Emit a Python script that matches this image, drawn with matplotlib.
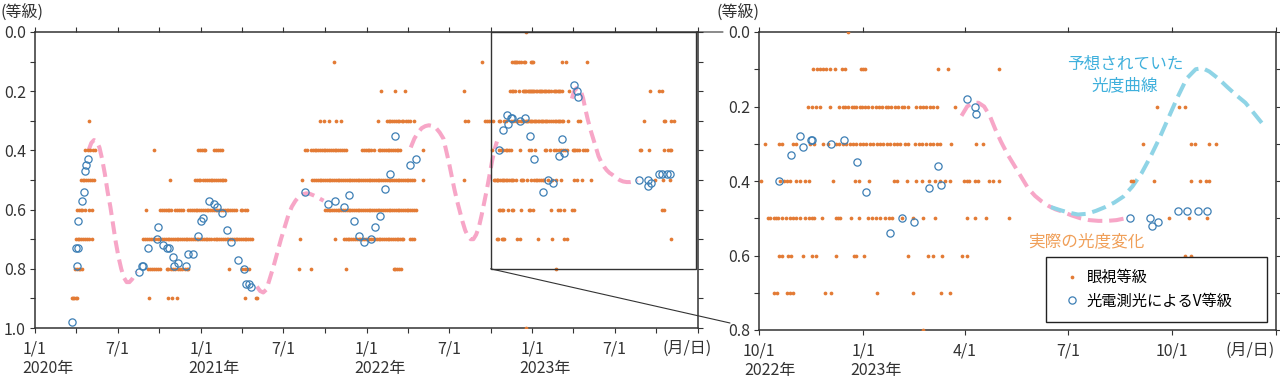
import pandas as pd
import matplotlib
matplotlib.use("Agg")
import matplotlib.pyplot as plt
import matplotlib.dates as mdates
import matplotlib.transforms as mtransforms
from matplotlib.ticker import MultipleLocator, FuncFormatter, FormatStrFormatter
from matplotlib.patches import Rectangle, ConnectionPatch
from matplotlib.lines import Line2D

plt.rcParams["font.family"] = ["Noto Sans CJK JP", "DejaVu Sans"]

START = pd.Timestamp("2020-01-01")

# visual estimates: days since 2020-01-01, one list per magnitude level
vis_00 = [1083]
vis_01 = [659, 986, 1052, 1055, 1058, 1061, 1063, 1067, 1071, 1077, 1080, 1094, 1096, 1098,
          1162, 1171, 1216]
vis_02 = [762, 793, 815, 945, 1047, 1051, 1054, 1058, 1067, 1075, 1078, 1080, 1083, 1086, 1088,
          1090, 1093, 1095, 1098, 1100, 1104, 1107, 1110, 1113, 1116, 1118, 1121, 1124, 1127,
          1130, 1132, 1136, 1143, 1146, 1149, 1152, 1155, 1158, 1161, 1177, 1356, 1375, 1381]
vis_03 = [120, 627, 637, 648, 663, 674, 755, 775, 779, 783, 787, 791, 795, 799, 803, 808, 812,
          817, 822, 826, 836, 948, 955, 992, 996, 1000, 1009, 1022, 1024, 1034, 1037, 1049, 1053,
          1061, 1065, 1072, 1075, 1078, 1081, 1084, 1087, 1090, 1093, 1096, 1099, 1102, 1105,
          1108, 1111, 1114, 1117, 1120, 1123, 1126, 1129, 1133, 1136, 1142, 1145, 1148, 1152,
          1155, 1158, 1161, 1164, 1174, 1196, 1202, 1343, 1386, 1389, 1402, 1408]
vis_04 = [110, 116, 122, 127, 132, 262, 360, 364, 368, 372, 375, 394, 398, 403, 407, 411, 596,
          600, 608, 612, 616, 620, 624, 628, 632, 636, 640, 644, 648, 652, 656, 660, 664, 668,
          672, 676, 680, 685, 721, 725, 729, 733, 737, 741, 746, 757, 761, 765, 769, 773, 777,
          781, 785, 789, 793, 797, 801, 805, 854, 1006, 1023, 1026, 1029, 1031, 1037, 1040, 1045,
          1048, 1069, 1089, 1092, 1101, 1123, 1126, 1135, 1143, 1148, 1154, 1160, 1164, 1168,
          1173, 1185, 1188, 1190, 1195, 1198, 1207, 1211, 1216, 1333, 1335, 1353, 1386, 1394,
          1399, 1402]
vis_05 = [101, 105, 109, 113, 117, 121, 125, 129, 297, 353, 357, 361, 364, 371, 375, 379, 383,
          387, 391, 395, 399, 403, 407, 411, 415, 419, 588, 611, 615, 619, 623, 627, 631, 635,
          639, 643, 647, 651, 655, 659, 663, 667, 671, 675, 679, 683, 687, 691, 695, 699, 703,
          707, 711, 715, 719, 723, 727, 731, 735, 739, 743, 747, 751, 755, 759, 763, 767, 771,
          775, 779, 783, 787, 791, 795, 799, 803, 807, 811, 815, 819, 823, 827, 831, 835, 854,
          945, 1012, 1014, 1017, 1019, 1021, 1024, 1028, 1031, 1034, 1037, 1040, 1045, 1048,
          1051, 1053, 1060, 1072, 1074, 1076, 1085, 1092, 1100, 1104, 1107, 1111, 1115, 1119,
          1122, 1130, 1140, 1149, 1160, 1188, 1195, 1205, 1225, 1366, 1384, 1400]
vis_06 = [92, 96, 101, 104, 110, 118, 126, 245, 276, 280, 284, 288, 292, 296, 300, 309, 313,
          317, 321, 326, 338, 342, 346, 350, 354, 358, 362, 366, 370, 374, 378, 382, 386, 390,
          394, 398, 402, 406, 410, 414, 418, 422, 426, 430, 434, 438, 442, 453, 457, 462, 467,
          639, 643, 647, 651, 655, 659, 663, 667, 671, 675, 679, 683, 687, 691, 695, 699, 703,
          707, 711, 715, 719, 723, 727, 731, 735, 739, 743, 747, 751, 755, 759, 763, 767, 771,
          775, 779, 783, 787, 791, 795, 799, 803, 807, 811, 815, 819, 823, 827, 831, 835, 839,
          1022, 1024, 1030, 1032, 1043, 1051, 1054, 1072, 1088, 1090, 1097, 1136, 1153, 1158,
          1166, 1183, 1188, 1381, 1386]
vis_07 = [90, 94, 98, 102, 106, 110, 114, 118, 126, 239, 243, 247, 251, 255, 259, 264, 272,
          276, 280, 284, 288, 292, 296, 300, 304, 308, 312, 316, 320, 324, 328, 332, 336, 340,
          344, 348, 352, 356, 360, 364, 368, 372, 376, 380, 384, 387, 394, 398, 402, 406, 410,
          414, 418, 422, 426, 430, 434, 438, 442, 446, 450, 454, 458, 462, 466, 470, 474, 479,
          585, 661, 681, 685, 689, 693, 697, 701, 705, 709, 713, 717, 721, 725, 729, 733, 737,
          741, 745, 749, 753, 757, 761, 765, 769, 773, 777, 781, 785, 789, 793, 797, 801, 805,
          809, 812, 826, 831, 836, 1017, 1020, 1029, 1031, 1034, 1062, 1068, 1108, 1140, 1165,
          1173, 1401]
vis_08 = [88, 92, 96, 100, 104, 250, 254, 258, 262, 266, 270, 275, 290, 294, 299, 304, 308,
          316, 320, 325, 330, 334, 338, 427, 457, 462, 467, 472, 582, 609, 685, 790, 794, 798,
          802, 807, 1149]
vis_09 = [81, 84, 87, 90, 93, 251, 292, 301, 312, 463, 486, 490]
vis_10 = [1083]

visual_levels = {0.0: vis_00, 0.1: vis_01, 0.2: vis_02, 0.3: vis_03, 0.4: vis_04, 0.5: vis_05,
                 0.6: vis_06, 0.7: vis_07, 0.8: vis_08, 0.9: vis_09, 1.0: vis_10}

# photoelectric V magnitudes
v_days = [81, 91, 93, 95, 95, 103, 109, 110, 112, 116,
          229, 236, 239, 250, 269, 272, 283, 290, 295, 303, 306, 316, 332, 338, 348, 359, 365,
          371, 383, 394, 400, 411, 422, 433, 448, 461, 464, 471, 477,
          596, 646, 661, 681, 693, 704, 713, 725, 740, 749, 760, 771, 782, 793, 826, 840,
          1022, 1032, 1040, 1043, 1050, 1051, 1068, 1079, 1091, 1099, 1120, 1130, 1141, 1154,
          1162, 1165, 1188, 1195, 1196, 1332, 1350, 1351, 1357, 1374, 1382, 1392, 1400]
v_mag = [0.98, 0.73, 0.79, 0.73, 0.64, 0.57, 0.54, 0.47, 0.45, 0.43,
         0.81, 0.79, 0.79, 0.73, 0.70, 0.66, 0.72, 0.73, 0.73, 0.76, 0.79, 0.78, 0.79, 0.75, 0.75,
         0.69, 0.64, 0.63, 0.57, 0.58, 0.59, 0.61, 0.67, 0.71, 0.77, 0.80, 0.85, 0.85, 0.86,
         0.54, 0.58, 0.57, 0.59, 0.55, 0.64, 0.69, 0.71, 0.70, 0.66, 0.62, 0.53, 0.48, 0.35,
         0.45, 0.43,
         0.40, 0.33, 0.28, 0.31, 0.29, 0.29, 0.30, 0.29, 0.35, 0.43, 0.54, 0.50, 0.51, 0.42,
         0.36, 0.41, 0.18, 0.20, 0.22, 0.50, 0.50, 0.52, 0.51, 0.48, 0.48, 0.48, 0.48]

# actual light variation (pink dashed), one segment per season
act_2020_days = [118, 124, 130, 136, 142, 148, 154, 160, 166, 172, 178, 184, 190, 196, 202,
                 208, 214, 220, 224]
act_2020_mag = [0.40, 0.375, 0.365, 0.37, 0.39, 0.43, 0.48, 0.54, 0.59, 0.65, 0.71, 0.76,
                0.80, 0.83, 0.845, 0.845, 0.835, 0.82, 0.81]
act_2021_days = [489, 496, 503, 510, 518, 526, 534, 542, 550, 558, 566, 574, 582, 590, 598,
                 606, 614, 622, 630, 636]
act_2021_mag = [0.86, 0.875, 0.88, 0.87, 0.83, 0.79, 0.745, 0.70, 0.66, 0.62, 0.59, 0.57,
                0.555, 0.548, 0.545, 0.547, 0.552, 0.558, 0.565, 0.57]
act_2022_days = [828, 836, 844, 852, 860, 868, 876, 884, 892, 900, 906, 912, 918, 924, 930,
                 936, 942, 948, 954, 960, 966, 972, 978, 984, 990, 996, 1002, 1008, 1014, 1018]
act_2022_mag = [0.39, 0.36, 0.34, 0.325, 0.318, 0.315, 0.318, 0.325, 0.34, 0.36, 0.40, 0.44,
                0.485, 0.53, 0.57, 0.605, 0.64, 0.67, 0.69, 0.70, 0.70, 0.685, 0.66, 0.62,
                0.575, 0.53, 0.48, 0.43, 0.39, 0.37]
act_2023_days = [1183, 1188, 1193, 1198, 1203, 1208, 1213, 1218, 1224, 1230, 1236, 1242, 1248,
                 1254, 1260, 1266, 1272, 1280, 1288, 1296, 1304, 1312, 1320, 1328]
act_2023_mag = [0.225, 0.20, 0.19, 0.19, 0.20, 0.225, 0.262, 0.295, 0.33, 0.36, 0.39, 0.42,
                0.44, 0.455, 0.467, 0.476, 0.482, 0.492, 0.50, 0.505, 0.507, 0.507, 0.505, 0.50]

# predicted light curve (light blue dashed)
pred_days = [1262, 1270, 1278, 1286, 1294, 1302, 1310, 1318, 1326, 1334, 1342, 1350, 1358,
             1366, 1374, 1382, 1390, 1396, 1402, 1410, 1418, 1426, 1434, 1442, 1450]
pred_mag = [0.47, 0.478, 0.485, 0.49, 0.488, 0.48, 0.47, 0.458, 0.442, 0.415, 0.38, 0.335,
            0.285, 0.23, 0.175, 0.125, 0.10, 0.097, 0.106, 0.125, 0.148, 0.17, 0.19, 0.22, 0.25]

ORANGE = "#e37b35"
BLUE = "#3d7fb5"
PINK = "#f7a6c7"
CYAN = "#8fd4e6"
DARK = "#333333"


def to_dates(days):
    return START + pd.to_timedelta(days, unit="D")


W, H = 1280, 377
fig = plt.figure(figsize=(W / 100, H / 100), dpi=100)
ax1 = fig.add_axes([35 / W, 1 - 328 / H, 663 / W, 296 / H])
ax2 = fig.add_axes([759 / W, 1 - 330 / H, 517 / W, 298 / H])

actual_left = [(act_2020_days, act_2020_mag), (act_2021_days, act_2021_mag),
               (act_2022_days, act_2022_mag), (act_2023_days, act_2023_mag)]
actual_right = [(act_2023_days, act_2023_mag)]

for ax, segs, dash in [(ax1, actual_left, (3.2, 1.6)), (ax2, actual_right, (3.6, 1.7))]:
    for d, m in segs:
        ax.plot(to_dates(d), m, color=PINK, lw=2.9, ls=(0, dash), dash_capstyle="butt", zorder=2)
    if ax is ax2:
        ax.plot(to_dates(pred_days), pred_mag, color=CYAN, lw=2.9, ls=(0, dash),
                dash_capstyle="butt", zorder=2.5)
    for mag, days in visual_levels.items():
        ax.plot(to_dates(days), [mag] * len(days), "o", ms=2.7, color=ORANGE, mec="none", zorder=3)
    ax.plot(to_dates(v_days), v_mag, "o", ms=5.2, mfc="none", mec=BLUE, mew=0.9, zorder=4)

    ax.xaxis.set_major_locator(mdates.MonthLocator(bymonth=[1, 4, 7, 10]))
    ax.yaxis.set_minor_locator(MultipleLocator(0.1))
    ax.yaxis.set_major_locator(MultipleLocator(0.2))
    ax.yaxis.set_major_formatter(FormatStrFormatter("%.1f"))
    ax.tick_params(which="both", direction="out", length=3.6, width=0.8, color=DARK,
                   top=True, right=True, labelsize=11.5, labelcolor=DARK, pad=3)
    ax.tick_params(axis="x", pad=5.5)
    for s in ax.spines.values():
        s.set_color(DARK)
        s.set_linewidth(1.1)


def left_fmt(x, pos):
    d = mdates.num2date(x)
    if d.year >= 2024:
        return ""
    return f"{d.month}/1" if d.month in (1, 7) else ""


def right_fmt(x, pos):
    d = mdates.num2date(x)
    return "" if d.year >= 2024 else f"{d.month}/1"


ax1.xaxis.set_major_formatter(FuncFormatter(left_fmt))
ax2.xaxis.set_major_formatter(FuncFormatter(right_fmt))

ax1.set_xlim(pd.Timestamp("2020-01-01"), pd.Timestamp("2024-01-01"))
ax1.set_ylim(1.0, 0.0)
ax2.set_xlim(pd.Timestamp("2022-10-01"), pd.Timestamp("2024-01-01"))
ax2.set_ylim(0.8, 0.0)

# year labels under the january / october ticks
for ax, when, dx in [(ax1, "2020-01-01", -9.2), (ax1, "2021-01-01", -9.2),
                     (ax1, "2022-01-01", -9.2), (ax1, "2023-01-01", -9.2),
                     (ax2, "2022-10-01", -10.5), (ax2, "2023-01-01", -9.2)]:
    ax.annotate(f"{pd.Timestamp(when).year}年", xy=(pd.Timestamp(when), 0),
                xycoords=("data", "axes fraction"), xytext=(dx, -29.5),
                textcoords="offset points", ha="left", va="center", fontsize=11.5, color=DARK)

fig.text(22 / W, 1 - 12 / H, "(等級)", ha="center", va="center", fontsize=11.5, color=DARK)
fig.text(738 / W, 1 - 12 / H, "(等級)", ha="center", va="center", fontsize=11.5, color=DARK)
fig.text(687 / W, 1 - 348 / H, "(月/日)", ha="center", va="center", fontsize=11.5, color=DARK)
fig.text(1250 / W, 1 - 350 / H, "(月/日)", ha="center", va="center", fontsize=11.5, color=DARK)

# zoom box and connectors
box_start = mdates.date2num(pd.Timestamp("2022-10-01"))
box_end = mdates.date2num(pd.Timestamp("2023-12-28"))
ax1.add_patch(Rectangle((box_start, 0.0), box_end - box_start, 0.8, fill=False,
                        ec=DARK, lw=1.0, zorder=5))
off_top = mtransforms.ScaledTranslation(-0.36, 0.0, fig.dpi_scale_trans)
off_bot = mtransforms.ScaledTranslation(-0.29, 0.07, fig.dpi_scale_trans)
fig.add_artist(ConnectionPatch((box_end, 0.0), (0, 1), coordsA=ax1.transData,
                               coordsB=ax2.transAxes + off_top, color=DARK, lw=0.8))
fig.add_artist(ConnectionPatch((box_start, 0.8), (0, 0), coordsA=ax1.transData,
                               coordsB=ax2.transAxes + off_bot, color=DARK, lw=0.8))

ax2.text(0.708, 0.856, "予想されていた\n光度曲線", transform=ax2.transAxes, ha="center",
         va="center", fontsize=12, color="#3fb0dc", linespacing=1.3)
ax2.text(0.634, 0.295, "実際の光度変化", transform=ax2.transAxes, ha="center", va="center",
         fontsize=12, color="#f0a05a")

handles = [Line2D([], [], ls="none", marker="o", ms=2.7, color=ORANGE, mec="none"),
           Line2D([], [], ls="none", marker="o", ms=5.2, mfc="none", mec=BLUE, mew=0.9)]
leg = ax2.legend(handles, ["眼視等級", "光電測光によるV等級"], loc="lower left",
                 bbox_to_anchor=(0.555, 0.027, 0.4275, 0.208), mode="expand", borderaxespad=0,
                 fontsize=11, frameon=True, fancybox=False, framealpha=1, edgecolor="#222222",
                 handlelength=1.8, handletextpad=0.05, borderpad=0.8, labelspacing=0.45)
leg.get_frame().set_linewidth(1.0)
leg.set_zorder(10)

fig.savefig("out.png", dpi=100)
